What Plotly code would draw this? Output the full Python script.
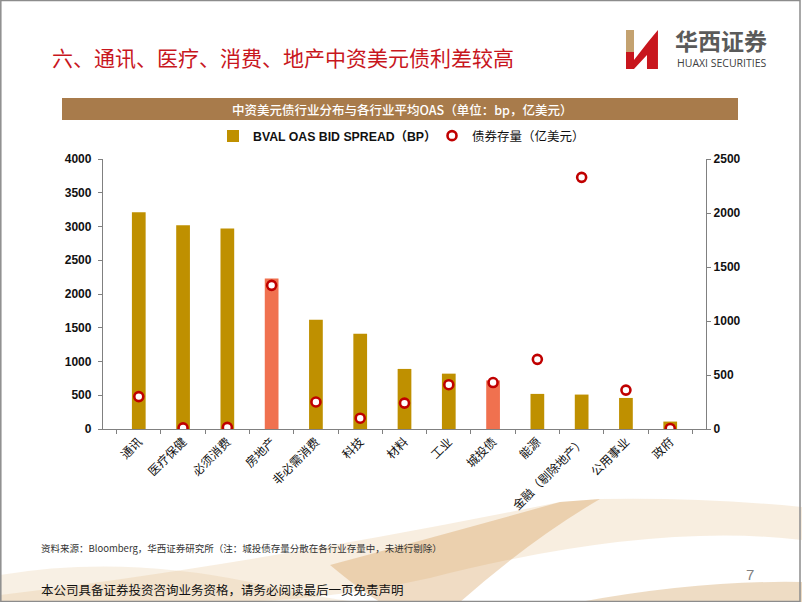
import plotly.graph_objects as go

categories = ["通讯", "医疗保健", "必须消费", "房地产", "非必需消费", "科技", "材料", "工业",
              "城投债", "能源", "金融（剔除地产）", "公用事业", "政府"]
oas_bp = [3210, 3020, 2970, 2230, 1620, 1410, 890, 820, 720, 520, 510, 460, 110]
stock_100m_usd = [300, 10, 15, 1330, 250, 100, 240, 410, 430, 645, 2330, 360, 5]
highlighted = ["房地产", "城投债"]
left_ticks = [0, 500, 1000, 1500, 2000, 2500, 3000, 3500, 4000]
right_ticks = [0, 500, 1000, 1500, 2000, 2500]

W, H = 802, 602
GOLD = "#BF9000"
SALMON = "#F0714F"
RED = "#C00000"


def px(x):
    return x / W


def py(y):
    return 1 - y / H


def path(points, close=True):
    s = ""
    for i, p in enumerate(points):
        if isinstance(p[0], str):
            s += f" {p[0]} " + " ".join(f"{px(a):.4f} {py(b):.4f}" for a, b in zip(p[1::2], p[2::2]))
        else:
            s += (" M " if i == 0 else " L ") + f"{px(p[0]):.4f} {py(p[1]):.4f}"
    return s + (" Z" if close else "")


bar_colors = [SALMON if c in highlighted else GOLD for c in categories]

fig = go.Figure()
fig.add_trace(go.Bar(
    x=categories, y=oas_bp, name="<b>BVAL OAS BID SPREAD（BP）</b>",
    marker=dict(color=bar_colors, line=dict(width=0)), width=0.31, yaxis="y", legend="legend",
))
fig.add_trace(go.Scatter(
    x=categories, y=stock_100m_usd, name="债券存量（亿美元）", mode="markers",
    marker=dict(symbol="circle", size=9, color="white", line=dict(color=RED, width=2.6)),
    yaxis="y2", legend="legend2",
))

shapes = []
# decorative swooshes
shapes.append(dict(type="path", xref="paper", yref="paper", layer="below",
                   path=path([(0, 595), ("Q", 250, 565, 560, 502), (600, 499), ("Q", 700, 497, 802, 507),
                              (802, 540), ("Q", 650, 522, 430, 578), ("Q", 320, 602, 220, 602), (0, 602)]),
                   fillcolor="rgba(225,178,115,0.22)", line=dict(width=0)))
shapes.append(dict(type="path", xref="paper", yref="paper", layer="below",
                   path=path([(330, 565), ("Q", 460, 530, 560, 502), (600, 499),
                              ("Q", 530, 540, 460, 602), (380, 602), ("Q", 360, 590, 330, 565)]),
                   fillcolor="rgba(205,140,60,0.30)", line=dict(width=0)))
shapes.append(dict(type="path", xref="paper", yref="paper", layer="below",
                   path=path([(0, 575), ("Q", 120, 555, 250, 582), ("Q", 320, 598, 360, 602), (0, 602)]),
                   fillcolor="rgba(225,185,130,0.22)", line=dict(width=0)))
shapes.append(dict(type="path", xref="paper", yref="paper", layer="below",
                   path=path([(580, 602), ("Q", 700, 580, 802, 582), (802, 602)]),
                   fillcolor="rgba(200,140,60,0.30)", line=dict(width=0)))
# header band
shapes.append(dict(type="rect", xref="paper", yref="paper", x0=px(62), x1=px(738), y0=py(120), y1=py(98),
                   fillcolor="#A87B4B", line=dict(width=0)))
# logo
shapes.append(dict(type="rect", xref="paper", yref="paper", x0=px(626), x1=px(634), y0=py(52), y1=py(30),
                   fillcolor="#C4A270", line=dict(width=0)))
shapes.append(dict(type="rect", xref="paper", yref="paper", x0=px(626), x1=px(634), y0=py(69), y1=py(52),
                   fillcolor="#C8161D", line=dict(width=0)))
shapes.append(dict(type="path", xref="paper", yref="paper",
                   path=path([(634, 60), (648, 42), (658, 30), (658, 69), (647, 69), (647, 55), (634, 69)]),
                   fillcolor="#C8161D", line=dict(width=0)))
# frame
shapes.append(dict(type="rect", xref="paper", yref="paper", x0=0.001, x1=px(800), y0=0.001, y1=0.999,
                   fillcolor="rgba(0,0,0,0)", line=dict(color="#8C8C8C", width=1.5)))

P = dict(xref="paper", yref="paper", showarrow=False)
annotations = [
    dict(text="六、通讯、医疗、消费、地产中资美元债利差较高", x=px(50), y=py(57), xanchor="left", yanchor="middle",
         font=dict(size=21, color="#C8161D", family="Noto Sans CJK SC"), **P),
    dict(text="<b>华西证券</b>", x=px(673), y=py(40), xanchor="left", yanchor="middle",
         font=dict(size=23, color="#5A5A5A", family="Noto Sans CJK SC"), **P),
    dict(text="HUAXI SECURITIES", x=px(675), y=py(63), xanchor="left", yanchor="middle",
         font=dict(size=10.5, color="#404040", family="Open Sans"), **P),
    dict(text="中资美元债行业分布与各行业平均OAS（单位：bp，亿美元）", x=px(402), y=py(109), xanchor="center",
         yanchor="middle", font=dict(size=12.5, color="white", family="Noto Sans CJK SC", weight=500), **P),
    dict(text="资料来源：Bloomberg，华西证券研究所（注：城投债存量分散在各行业存量中，未进行剔除）", x=px(39), y=py(548),
         xanchor="left", yanchor="middle",
         font=dict(size=9.5, color="#333333", family="Noto Sans CJK SC"), **P),
    dict(text="本公司具备证券投资咨询业务资格，请务必阅读最后一页免责声明", x=px(39), y=py(589), xanchor="left",
         yanchor="middle", font=dict(size=12.5, color="#111111", family="Noto Sans CJK SC"), **P),
    dict(text="7", x=px(750), y=py(574), xanchor="center", yanchor="middle",
         font=dict(size=15, color="#808080", family="Liberation Sans Narrow, Liberation Sans"), **P),
]

axis_font = dict(size=12, color="#111111", family="Liberation Sans, Arial", weight="bold")
legend_common = dict(orientation="h", yanchor="middle", xanchor="left", y=py(136),
                     bgcolor="rgba(0,0,0,0)", itemwidth=30)

fig.update_layout(
    width=W, height=H, margin=dict(l=0, r=0, t=0, b=0, autoexpand=False),
    paper_bgcolor="white", plot_bgcolor="rgba(0,0,0,0)",
    showlegend=True,
    legend=dict(x=px(213), font=dict(size=12.3, color="#111111", family="Liberation Sans, Noto Sans CJK SC"),
                **legend_common),
    legend2=dict(x=px(432), font=dict(size=12.5, color="#111111", family="Noto Sans CJK SC"),
                 **legend_common),
    xaxis=dict(domain=[px(103), px(706)], type="category", showline=True, linecolor="#808080", linewidth=1.3,
               ticks="outside", ticklen=4, tickcolor="#808080", tickson="boundaries", tickangle=-45,
               tickfont=dict(size=12, color="#111111", family="Noto Sans CJK SC"), showgrid=False,
               anchor="y", automargin=False),
    yaxis=dict(domain=[py(429), py(159)], range=[0, 4000], tickvals=left_ticks, showline=True,
               linecolor="#808080", linewidth=1.3, ticks="outside", ticklen=4, tickcolor="#808080",
               showgrid=False, zeroline=False, tickfont=axis_font, ticklabelstandoff=4,
               automargin=False),
    yaxis2=dict(overlaying="y", side="right", range=[0, 2500], tickvals=right_ticks, showline=True,
                linecolor="#808080", linewidth=1.3, ticks="outside", ticklen=4, tickcolor="#808080",
                showgrid=False, zeroline=False, tickfont=axis_font, anchor="x", automargin=False),
    shapes=shapes, annotations=annotations,
    bargap=0.69,
)

fig.write_html("out.html", config={"displayModeBar": False},
               post_script="document.body.style.margin='0';document.body.style.overflow='hidden';")
